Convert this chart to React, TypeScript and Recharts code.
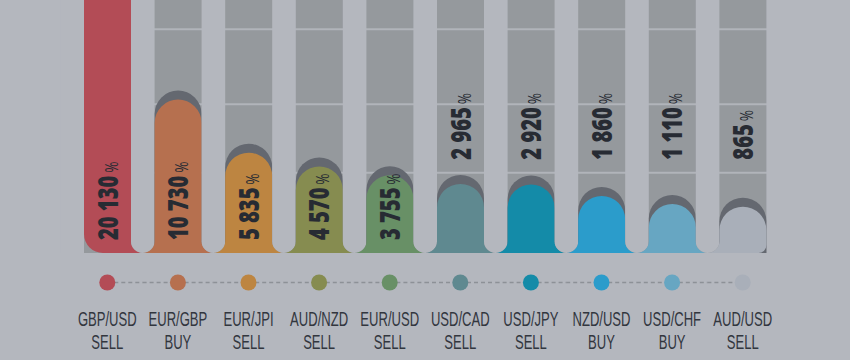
import React from 'react';
import { BarChart, Bar, XAxis, YAxis, CartesianGrid } from 'recharts';

const pairs = ['GBP/USD', 'EUR/GBP', 'EUR/JPI', 'AUD/NZD', 'EUR/USD', 'USD/CAD', 'USD/JPY', 'NZD/USD', 'USD/CHF', 'AUD/USD'];
const sides = ['SELL', 'BUY', 'SELL', 'SELL', 'SELL', 'SELL', 'SELL', 'BUY', 'BUY', 'SELL'];
const shares = [20130, 10730, 5835, 4570, 3755, 2965, 2920, 1860, 1110, 865];
const colors = ['#b34c56', '#b6704f', '#bd8541', '#868c50', '#689066', '#5f8990', '#148ba8', '#2b9ccb', '#67a6c2', '#a9afb9'];
const gridTicks = [4000, 10300, 17200];

// bars grow from a stub below zero, the tallest one runs off the top
const BASE = -3400;
const TOP = 19900;

const W = 850;
const H = 360;
const SIDE = 72;
const BAND = (W - 2 * SIDE) / pairs.length;
const BAR_W = 47;
const GAP = BAND - BAR_W;

const BG = '#b4b7be';
const COLUMN = '#95999d';
const SHADOW = '#646870';
const TEXT = '#272b33';

const data = pairs.map((pair, i) => ({ pair, side: sides[i], share: shares[i], range: [BASE, shares[i]] }));

const fmt = (v: number) => String(v).replace(/\B(?=(\d{3})+(?!\d))/g, ' ');

const PillBar = (props: any) => {
    const { x, y, width: w, height: h, index } = props;
    const bg = props.background || { y: 0, height: y + h };
    const top = bg.y;
    const bottom = y + h;
    const r = w / 2;
    const f = GAP / 2;
    const first = index === 0;
    const last = index === shares.length - 1;
    const clipped = y <= top + 0.5;
    const yTop = Math.max(y, top);
    const lift = 9;

    let d = first
        ? `M${x + 19},${bottom}A19,19 0 0 1 ${x},${bottom - 19}`
        : `M${x - f},${bottom}A${f},${f} 0 0 0 ${x},${bottom - f}`;
    d += clipped ? `L${x},${top}L${x + w},${top}` : `L${x},${yTop + r}A${r},${r} 0 0 1 ${x + w},${yTop + r}`;
    d += last
        ? `L${x + w},${bottom - 8}A8,8 0 0 1 ${x + w - 8},${bottom}Z`
        : `L${x + w},${bottom - f}A${f},${f} 0 0 0 ${x + w + f},${bottom}Z`;

    const fits = bottom - yTop > 74;
    const floorY = bottom - ((gridTicks[0] - BASE) / (TOP - BASE)) * (bottom - top);
    const labelY = fits ? bottom - 13 : floorY - 13;

    return (
        <g>
            {first ? (
                <rect x={x - GAP} y={top} width={GAP} height={bottom - top} fill={BG} />
            ) : (
                <path d={`M${x - GAP},${top}H${x}V${bottom - f}A${f},${f} 0 0 1 ${x - GAP},${bottom - f}Z`} fill={BG} />
            )}
            {last && <rect x={x + w} y={top} width={GAP + 1} height={bottom - top + 1} fill={BG} />}
            {!clipped && (
                <path
                    d={`M${x},${bottom}L${x},${yTop - lift + r}A${r},${r} 0 0 1 ${x + w},${yTop - lift + r}L${x + w},${bottom}Z`}
                    fill={SHADOW}
                />
            )}
            <path d={d} fill={colors[index]} />
            <text
                transform={`translate(${x + r + 10},${labelY}) rotate(-90) scale(0.72,1)`}
                fontFamily="'Open Sans', sans-serif"
                fontWeight={800}
                fontSize={28}
                fill={TEXT}
            >
                {fmt(shares[index])}
                <tspan fontSize={19} fontWeight={400} dx={4}>%</tspan>
            </text>
        </g>
    );
};

const PairTick = (props: any) => {
    const { x, y, index } = props;
    const half = BAND / 2;
    const dotY = y + 29.5;
    const x1 = index === 0 ? x : x - half;
    const x2 = index === pairs.length - 1 ? x : x + half;
    return (
        <g>
            <line x1={x1} x2={x2} y1={dotY} y2={dotY} stroke="#8d9197" strokeWidth={1.5} strokeDasharray="4 3" />
            <circle cx={x} cy={dotY} r={8} fill={colors[index]} />
            <g transform={`translate(${x},${y})`} fontFamily="'Liberation Sans', Arial, sans-serif" fontSize={19.5} fill="#32363e">
                <text transform="scale(0.67,1)" textAnchor="middle" x={0} y={73}>
                    {pairs[index]}
                </text>
                <text transform="scale(0.67,1)" textAnchor="middle" x={0} y={96}>
                    {sides[index]}
                </text>
            </g>
        </g>
    );
};

const App = () => {
    return (
        <div style={{ position: 'absolute', left: 0, top: 0, width: W, height: H, background: BG }}>
            <BarChart width={W} height={H} data={data} margin={{ top: 0, right: SIDE, left: SIDE, bottom: 0 }}>
                <CartesianGrid
                    vertical={false}
                    fill={COLUMN}
                    fillOpacity={1}
                    stroke="#b1b4ba"
                    strokeWidth={2}
                    horizontalValues={gridTicks}
                />
                <XAxis
                    dataKey="pair"
                    interval={0}
                    tickLine={false}
                    axisLine={false}
                    tickSize={0}
                    tickMargin={0}
                    height={107}
                    tick={(p: any) => <PairTick {...p} />}
                />
                <YAxis hide type="number" domain={[BASE, TOP]} ticks={gridTicks} allowDataOverflow />
                <Bar dataKey="range" barSize={BAR_W} shape={(p: any) => <PillBar {...p} />} isAnimationActive={false} />
            </BarChart>
        </div>
    );
};

export default App;
